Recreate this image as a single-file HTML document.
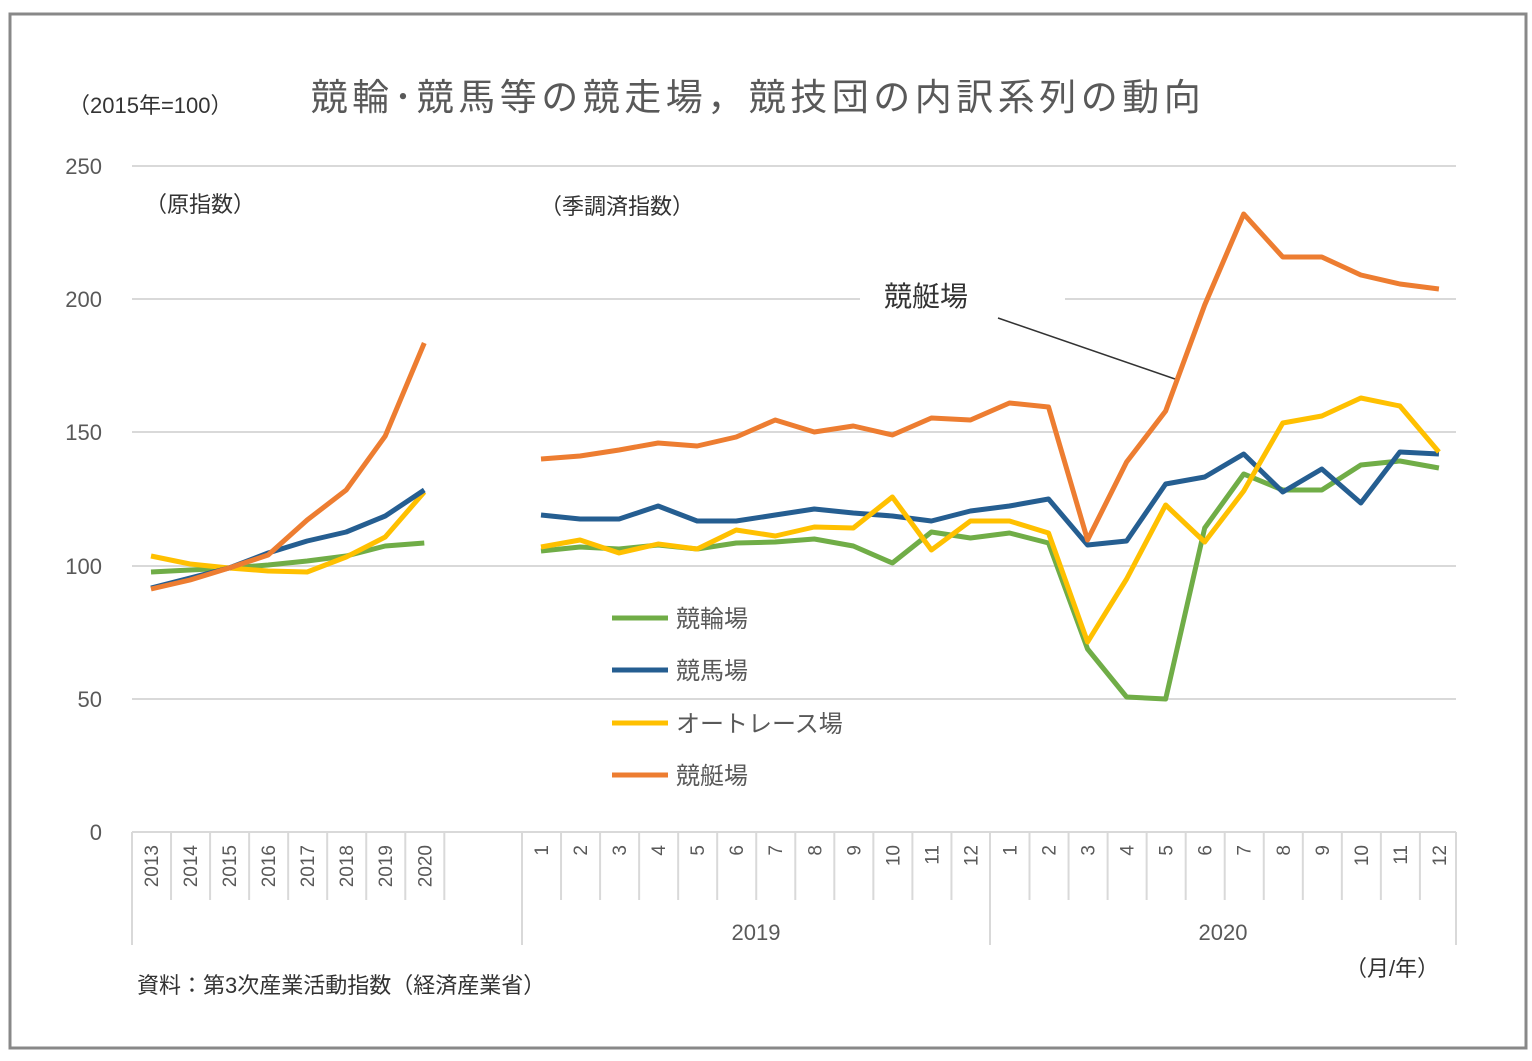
<!DOCTYPE html>
<html><head><meta charset="utf-8"><style>
body{margin:0;background:#fff;width:1532px;height:1056px;overflow:hidden}
svg text{font-family:"Liberation Sans","Noto Sans CJK JP",sans-serif;}
</style></head><body>
<svg width="1532" height="1056" xmlns="http://www.w3.org/2000/svg">
<rect x="0" y="0" width="1532" height="1056" fill="#fff"/>
<rect x="10" y="14" width="1516" height="1034" fill="none" stroke="#888" stroke-width="3"/>
<text x="758" y="110" font-size="37" letter-spacing="4.5" fill="#595959" text-anchor="middle">競輪･競馬等の競走場，競技団の内訳系列の動向</text>
<text x="68" y="113" font-size="22" fill="#333">（2015年=100）</text>
<g stroke="#d9d9d9" stroke-width="2">
<line x1="132" y1="166" x2="1456" y2="166"/>
<line x1="132" y1="299" x2="860" y2="299"/><line x1="1065" y1="299" x2="1456" y2="299"/>
<line x1="132" y1="432" x2="1456" y2="432"/>
<line x1="132" y1="566" x2="1456" y2="566"/>
<line x1="132" y1="699" x2="1456" y2="699"/>
<line x1="132" y1="832" x2="1456" y2="832"/>
</g>
<g font-size="22" fill="#595959" text-anchor="end">
<text x="102" y="174">250</text><text x="102" y="307">200</text><text x="102" y="440">150</text><text x="102" y="574">100</text><text x="102" y="707">50</text><text x="102" y="840">0</text>
</g>
<text x="145" y="212" font-size="22" fill="#333">（原指数）</text>
<text x="540" y="214" font-size="22" fill="#333">（季調済指数）</text>
<text x="884" y="306" font-size="28" fill="#333">競艇場</text>
<line x1="998" y1="318" x2="1175" y2="379" stroke="#333" stroke-width="1.5"/>
<g id="ticks" stroke="#d9d9d9" stroke-width="2"></g>
<g id="lab" font-size="19" fill="#595959"></g>
<text x="756" y="940" font-size="22" fill="#595959" text-anchor="middle">2019</text>
<text x="1223" y="940" font-size="22" fill="#595959" text-anchor="middle">2020</text>
<text x="1345" y="976" font-size="22" fill="#333">（月/年）</text>
<text x="137" y="993" font-size="22" fill="#333">資料：第3次産業活動指数（経済産業省）</text>
<g id="series" fill="none" stroke-width="5" stroke-linejoin="round"></g>
<g stroke-width="5">
<line x1="612" y1="618" x2="668" y2="618" stroke="#70ad47"/>
<line x1="612" y1="670" x2="668" y2="670" stroke="#255e91"/>
<line x1="612" y1="723" x2="668" y2="723" stroke="#ffc000"/>
<line x1="612" y1="775" x2="668" y2="775" stroke="#ed7d31"/>
</g>
<g font-size="24" fill="#595959">
<text x="676" y="627">競輪場</text><text x="676" y="679">競馬場</text><text x="676" y="732">オートレース場</text><text x="676" y="784">競艇場</text>
</g>
<script>
const ns="http://www.w3.org/2000/svg";
const t=document.getElementById('ticks'),l=document.getElementById('lab'),s=document.getElementById('series');
function ln(x1,y1,x2,y2){const e=document.createElementNS(ns,'line');e.setAttribute('x1',x1);e.setAttribute('y1',y1);e.setAttribute('x2',x2);e.setAttribute('y2',y2);t.appendChild(e);}
const st=39.04;
for(let i=0;i<=8;i++){ln(132+i*st,832,132+i*st,900);}
ln(132,832,132,945);ln(522,832,522,945);ln(990,832,990,945);ln(1456,832,1456,945);
for(let i=1;i<24;i++){if(i!=12)ln(522+i*st,832,522+i*st,900);}
function vt(x,txt){const e=document.createElementNS(ns,'text');e.setAttribute('transform',`translate(${x+7},${845}) rotate(-90)`);e.setAttribute('text-anchor','end');e.textContent=txt;l.appendChild(e);}
for(let i=0;i<8;i++)vt(151+i*st,String(2013+i));
for(let i=0;i<24;i++)vt(541+i*st,String(i%12+1));
function pl(xs,ys,c){const e=document.createElementNS(ns,'polyline');e.setAttribute('points',ys.map((y,i)=>xs(i)+','+y).join(' '));e.setAttribute('stroke',c);s.appendChild(e);}
const ax=i=>151+i*st, mx=i=>541+i*st;
pl(ax,[572,570,568,565,561,556,546,543],'#70ad47');
pl(ax,[556,564,568,571,572,557,537,492],'#ffc000');
pl(ax,[588,578,568,553,541,532,516,490],'#255e91');
pl(ax,[589,580,568,555,520,490,436,343],'#ed7d31');
pl(mx,[551,547,549,545,549,543,542,539,546,563,532,538,533,543,649,697,699,528,474,490,490,465,461,468],'#70ad47');
pl(mx,[515,519,519,506,521,521,515,509,513,516,521,511,506,499,545,541,484,477,454,492,469,503,452,454],'#255e91');
pl(mx,[547,540,553,544,549,530,536,527,528,497,550,521,521,533,642,579,505,542,491,423,416,398,406,452],'#ffc000');
pl(mx,[459,456,450,443,446,437,420,432,426,435,418,420,403,407,540,462,411,305,214,257,257,275,284,289],'#ed7d31');
</script>
</svg>
</body></html>
